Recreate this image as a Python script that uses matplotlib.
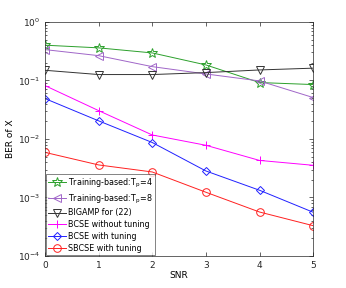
import matplotlib
import numpy as np

matplotlib.use("Agg")
import matplotlib.pyplot as plt
from matplotlib.ticker import LogLocator, NullFormatter

snr = [0, 1, 2, 3, 4, 5]

train_tp4 = [0.40, 0.36, 0.295, 0.184, 0.092, 0.085]
train_tp8 = [0.336, 0.265, 0.172, 0.129, 0.098, 0.051]
bigamp = [0.149, 0.126, 0.126, 0.136, 0.151, 0.162]
bcse_no_tune = [0.0816, 0.0305, 0.0117, 0.0078, 0.0043, 0.00355]
bcse_tune = [0.049, 0.0204, 0.0087, 0.00284, 0.00133, 0.00056]
sbcse_tune = [0.0059, 0.0036, 0.00273, 0.00123, 0.000565, 0.00033]

labels = [
    "Training-based:T$_\\mathrm{p}$=4",
    "Training-based:T$_\\mathrm{p}$=8",
    "BIGAMP for (22)",
    "BCSE without tuning",
    "BCSE with tuning",
    "SBCSE with tuning",
]

plt.rcParams.update({
    "font.family": "DejaVu Sans",
    "font.size": 6.5,
    "mathtext.default": "regular",
})

fig = plt.figure(figsize=(3.46, 2.88), dpi=100)
ax = fig.add_axes([0.130, 0.111, 0.775, 0.813])

series = [
    (train_tp4, "#2ca02c", "*", 7),
    (train_tp8, "#a066c8", "<", 6),
    (bigamp, "#333333", "v", 6),
    (bcse_no_tune, "#ff00ff", "+", 6),
    (bcse_tune, "#2020ff", "D", 4.5),
    (sbcse_tune, "#ff2020", "o", 5.5),
]

for (vals, color, marker, ms), lab in zip(series, labels):
    ax.semilogy(snr, vals, color=color, marker=marker, markersize=ms,
                markerfacecolor="none", markeredgewidth=0.7, lw=0.7, label=lab)

ax.set_xlim(0, 5)
ax.set_ylim(1e-4, 1)
ax.set_xticks(snr)
ax.yaxis.set_major_locator(LogLocator(base=10, numticks=10))
ax.yaxis.set_minor_locator(LogLocator(base=10, subs=np.arange(2, 10), numticks=20))
ax.yaxis.set_minor_formatter(NullFormatter())
ax.tick_params(which="both", direction="in", top=True, right=True,
               colors="#262626", width=0.5)
ax.tick_params(which="major", length=3)
ax.tick_params(which="minor", length=1.5)
for sp in ax.spines.values():
    sp.set_linewidth(0.5)
    sp.set_color("#262626")

ax.set_xlabel("SNR", labelpad=1)
ax.set_ylabel("BER of X", labelpad=2)

leg = ax.legend(loc="lower left", fontsize=5.8, frameon=True, fancybox=False,
                borderaxespad=0.1, handlelength=2.2, handletextpad=0.3,
                labelspacing=0.35, borderpad=0.3)
leg.get_frame().set_edgecolor("#262626")
leg.get_frame().set_linewidth(0.5)

fig.savefig("out.png", dpi=100)
